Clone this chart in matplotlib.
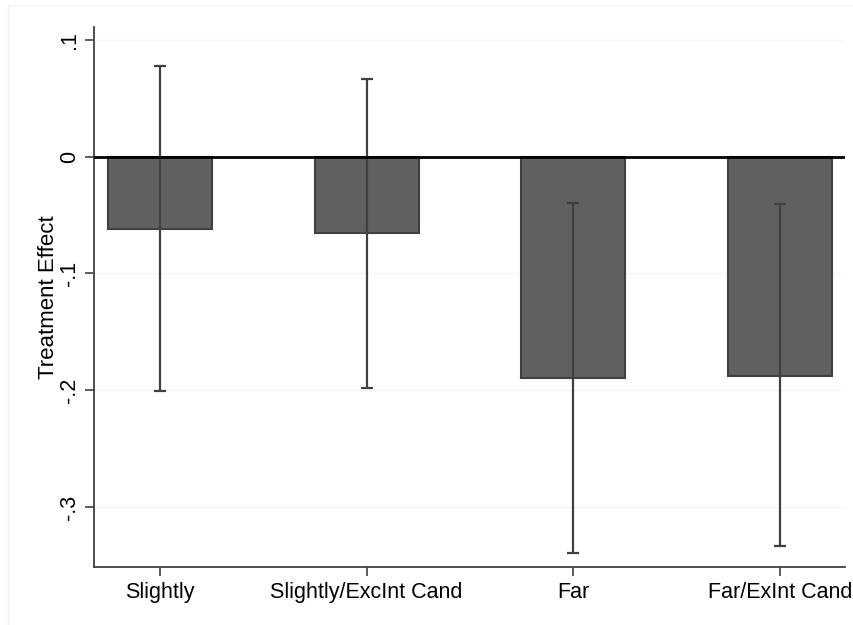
import numpy as np
import matplotlib.pyplot as plt

plt.rcParams['font.family'] = ['Liberation Sans', 'DejaVu Sans']

categories = ["Slightly", "Slightly/ExcInt Cand", "Far", "Far/ExInt Cand"]
effects = [-0.0616, -0.0653, -0.1895, -0.1878]
ci_low = [-0.2003, -0.1980, -0.3396, -0.3333]
ci_high = [0.0779, 0.0663, -0.0399, -0.0408]
yticks = [0.1, 0.0, -0.1, -0.2, -0.3]
ytick_labels = [".1", "0", "-.1", "-.2", "-.3"]

fig = plt.figure(figsize=(8.54, 6.25), dpi=100)
ax = fig.add_axes([0.1097, 0.0928, 0.8798, 0.864])

x = np.arange(len(categories))
eff = np.array(effects)
lo = np.array(ci_low)
hi = np.array(ci_high)

ax.bar(x, eff, width=0.503, color="#606060", edgecolor="#404040",
       linewidth=1.5, zorder=2)
ax.errorbar(x, eff, yerr=[eff - lo, hi - eff], fmt="none", ecolor="#404040",
            elinewidth=1.6, capsize=4.3, capthick=1.6, zorder=3)
ax.axhline(0, color="black", linewidth=2, zorder=4)

for t in yticks:
    ax.axhline(t, color="#f6f6f6", linewidth=1, zorder=0)

ax.set_xlim(-0.321, 3.315)
ax.set_ylim(-0.3513, 0.111)
ax.set_xticks(x)
ax.set_xticklabels(categories, fontsize=15.5)
ax.set_yticks(yticks)
ax.set_yticklabels(ytick_labels, fontsize=15.5, rotation=90, va="center")
ax.set_ylabel("Treatment Effect", fontsize=16, labelpad=0)

ax.spines["top"].set_visible(False)
ax.spines["right"].set_visible(False)
for s in ("left", "bottom"):
    ax.spines[s].set_color("#404040")
    ax.spines[s].set_linewidth(1.3)
ax.tick_params(axis="both", direction="out", length=6.5, width=1.2,
               color="#404040", pad=4)
ax.tick_params(axis="y", pad=3)

# faint outer frame like the Stata graph region
fig.add_artist(plt.Line2D([8/854, 8/854], [0, 1 - 5/625], color="#f2f2f2", lw=1))
fig.add_artist(plt.Line2D([8/854, 1], [1 - 5/625, 1 - 5/625], color="#f2f2f2", lw=1))

fig.savefig("out.png", dpi=100)
